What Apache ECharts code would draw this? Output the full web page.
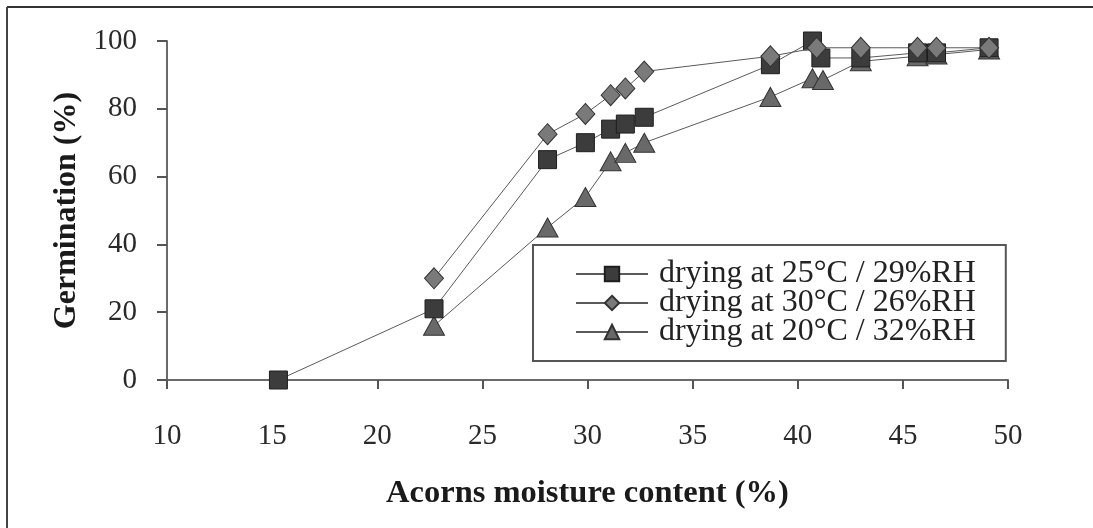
<!DOCTYPE html>
<html>
<head>
<meta charset="utf-8">
<script src="https://cdn.jsdelivr.net/npm/echarts@6/dist/echarts.min.js"></script>
<style>
html,body{margin:0;padding:0;background:#fff;}
#chart{width:1093px;height:528px;}
</style>
</head>
<body>
<div id="chart"></div>
<script>
const seriesNames = ['drying at 25°C / 29%RH', 'drying at 30°C / 26%RH', 'drying at 20°C / 32%RH'];
const xTicks = [10, 15, 20, 25, 30, 35, 40, 45, 50];
const yTicks = [0, 20, 40, 60, 80, 100];

const dry25x = [15.3, 22.7, 28.1, 29.9, 31.1, 31.8, 32.7, 38.7, 40.7, 41.1, 43.0, 45.7, 46.6, 49.1];
const dry25y = [0, 21, 65, 70, 74, 75.5, 77.5, 93, 100, 95, 95, 96.5, 96.5, 98];

const dry30x = [22.7, 28.1, 29.9, 31.1, 31.8, 32.7, 38.7, 40.9, 43.0, 45.7, 46.6, 49.1];
const dry30y = [30, 72.5, 78.5, 84, 86, 91, 95.5, 98, 98, 98, 98, 98];

const dry20x = [22.7, 28.1, 29.9, 31.1, 31.8, 32.7, 38.7, 40.7, 41.2, 43.0, 45.7, 46.6, 49.1];
const dry20y = [16, 45, 54, 64.5, 67, 70, 83.5, 89, 88.5, 94, 95.5, 96, 97.5];

function pairs(xs, ys){ return xs.map((x,i)=>[x, ys[i]]); }

const FONT = '"Liberation Serif", "Times New Roman", serif';
const chart = echarts.init(document.getElementById('chart'));
const lineStyle = {color:'#5a5a5a', width:1};

chart.setOption({
  animation:false,
  backgroundColor:'#fff',
  grid:{left:167, right:85, top:41, bottom:148, containLabel:false},
  xAxis:{
    type:'value', min:xTicks[0], max:xTicks[xTicks.length-1], interval:5,
    name:'Acorns moisture content (%)', nameLocation:'middle', nameGap:97,
    nameTextStyle:{fontFamily:FONT, fontWeight:'bold', fontSize:32.5, color:'#1a1a1a'},
    axisLine:{lineStyle:{color:'#6a6a6a', width:2}},
    axisTick:{show:true, inside:false, length:9, lineStyle:{color:'#555', width:2}},
    axisLabel:{fontFamily:FONT, fontSize:29, color:'#2a2a2a', margin:42},
    splitLine:{show:false}
  },
  yAxis:{
    type:'value', min:yTicks[0], max:yTicks[yTicks.length-1], interval:20,
    name:'Germination (%)', nameLocation:'middle', nameGap:84, nameRotate:90,
    nameTextStyle:{fontFamily:FONT, fontWeight:'bold', fontSize:32, color:'#1a1a1a'},
    axisLine:{show:true, lineStyle:{color:'#6a6a6a', width:2}},
    axisTick:{show:true, inside:false, length:10, lineStyle:{color:'#555', width:2}},
    axisLabel:{fontFamily:FONT, fontSize:29, color:'#2a2a2a', margin:30},
    splitLine:{show:false}
  },
  legend:{
    orient:'vertical', left:533, top:245,
    padding:[13, 30, 13, 42],
    itemWidth:72, itemHeight:18, itemGap:-3,
    borderColor:'#555', borderWidth:2, backgroundColor:'#fff',
    textStyle:{fontFamily:FONT, fontSize:32, color:'#222', padding:[0,0,0,6]},
    data:seriesNames
  },
  graphic:[
    {type:'line', shape:{x1:7, y1:7, x2:1093, y2:7}, style:{stroke:'#333', lineWidth:2}, silent:true},
    {type:'line', shape:{x1:7, y1:7, x2:7, y2:528}, style:{stroke:'#444', lineWidth:2}, silent:true}
  ],
  series:[
    {name:seriesNames[0], type:'line', data:pairs(dry25x, dry25y), symbol:'rect', symbolSize:18,
      lineStyle:lineStyle, itemStyle:{color:'#3c3c3c', borderColor:'#1e1e1e', borderWidth:1}, z:3},
    {name:seriesNames[1], type:'line', data:pairs(dry30x, dry30y), symbol:'diamond', symbolSize:[19,21],
      lineStyle:lineStyle, itemStyle:{color:'#7a7a7a', borderColor:'#333', borderWidth:1}, z:4},
    {name:seriesNames[2], type:'line', data:pairs(dry20x, dry20y), symbol:'triangle', symbolSize:[21,19],
      lineStyle:lineStyle, itemStyle:{color:'#696969', borderColor:'#333', borderWidth:1}, z:2}
  ]
});
</script>
</body>
</html>
